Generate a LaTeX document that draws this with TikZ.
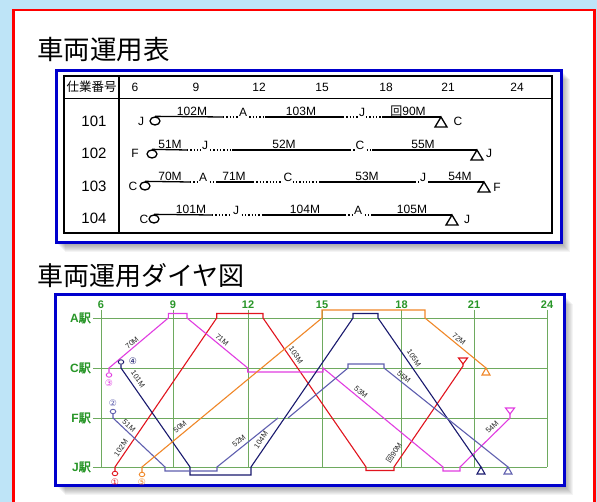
\documentclass[tikz,border=0pt]{standalone}
\usepackage{fontspec}
\setmainfont{Liberation Sans}
\newfontfamily\jp[AutoFakeBold=2]{Noto Sans CJK JP}
\newfontfamily\dvs{DejaVu Sans}
\usetikzlibrary{shapes.geometric}
\definecolor{bgblue}{RGB}{190,228,247}
\definecolor{pred}{RGB}{255,0,0}
\definecolor{bbox}{RGB}{0,0,205}
\definecolor{gridg}{RGB}{110,170,95}
\definecolor{labg}{RGB}{40,150,40}
\definecolor{tred}{RGB}{225,20,30}
\definecolor{tmag}{RGB}{225,60,225}
\definecolor{tnavy}{RGB}{25,25,110}
\definecolor{tslate}{RGB}{95,95,175}
\definecolor{torange}{RGB}{240,135,40}
\tikzset{
 tabtxt/.style={font=\fontsize{12}{12}\selectfont, inner sep=0pt},
 rownum/.style={font=\fontsize{15}{15}\selectfont, inner sep=0pt},
 tlab/.style={font=\fontsize{12}{12}\selectfont, anchor=base, inner sep=0pt},
 slab/.style={font=\fontsize{12}{12}\selectfont, anchor=base, inner sep=1pt, fill=white},
 solidseg/.style={line width=1.3pt},
 dotseg/.style={line width=1.3pt, dash pattern=on 1.3pt off 2pt},
 startc/.style={draw, ellipse, line width=1.3pt, minimum width=10pt, minimum height=8pt, inner sep=0pt},
 endtri/.style={line width=1.3pt, line join=miter},
 gridln/.style={draw=gridg, line width=0.9pt},
 ghour/.style={text=labg, font=\bfseries\fontsize{11}{11}\selectfont, inner sep=0pt},
 gsta/.style={text=labg, font=\bfseries\fontsize{12}{12}\selectfont, inner sep=0pt, anchor=east},
 train/.style={line width=1.1pt},
 dcirc/.style={draw, ellipse, line width=0.9pt, minimum width=5.5pt, minimum height=4.5pt, inner sep=0pt},
 cnum/.style={font=\dvs\fontsize{9}{9}\selectfont, inner sep=0pt},
 llab/.style={font=\fontsize{7.5}{7.5}\selectfont, text=black!85, inner sep=0pt},
 bluebox/.style={draw=bbox, line width=3pt, fill=white},
}
\begin{document}
\begin{tikzpicture}[x=1pt,y=-1pt]
\useasboundingbox (0,0) rectangle (597,502);
\clip (0,0) rectangle (597,502);
\fill[bgblue] (0,0) rectangle (597,502);
\draw[pred, line width=2.5pt, fill=white] (13.5,10) rectangle (594.5,530);

% titles
\node[anchor=west, inner sep=0pt, font=\jp\fontsize{26.5}{26.5}\selectfont] (title1) at (37,50) {車両運用表};
\node[anchor=west, inner sep=0pt, font=\jp\fontsize{26}{26}\selectfont] (title2) at (37,276) {車両運用ダイヤ図};

% ---------- top table ----------
\foreach \i in {2,...,9} \fill[black, opacity=0.045] (56+\i,70.5+\i) rectangle (561+\i,243+\i);
\draw[bluebox] (56,70.5) rectangle (561,243);
\draw[line width=1.4pt] (64,76) rectangle (552,233);
\draw[line width=1.4pt] (64,98.3) -- (552,98.3);
\draw[line width=1.4pt] (119,76) -- (119,233);
\node[inner sep=0pt, font=\jp\fontsize{12.5}{12.5}\selectfont] (hdr) at (91.5,87) {仕業番号};
\foreach \h/\x in {6/135,9/196,12/259,15/322,18/386,21/448,24/517}
  \node[tabtxt] (th\h) at (\x,87) {\h};

% row 101
\node[rownum] (n101) at (94,121) {101};
\node[tabtxt] (o101) at (141,121) {J};
\node[startc] (s101) at (155,121) {};
\draw[solidseg] (s101.north) -- (223,117);
\node[tlab] (l101a) at (192,115.5) {102M};
\draw[dotseg] (223,117) -- (265,117);
\node[slab] (w101a) at (243,117) {A};
\draw[solidseg] (265,117) -- (343,117);
\node[tlab] (l101b) at (301,115.5) {103M};
\draw[dotseg] (343,117) -- (382,117);
\node[slab] (w101b) at (362,117) {J};
\draw[solidseg] (382,117) -- (441,117) coordinate (e101);
\draw[endtri] (e101) -- ++(-6,10) -- ++(12,0) -- cycle;
\node[tlab] (l101c) at (408,115.5) {{\jp 回}90M};
\node[tabtxt] (d101) at (458,121) {C};

% row 102
\node[rownum] (n102) at (94,153) {102};
\node[tabtxt] (o102) at (135,153) {F};
\node[startc] (s102) at (152,154) {};
\draw[solidseg] (s102.north) -- (187,150);
\node[tlab] (l102a) at (170,148.5) {51M};
\draw[dotseg] (187,150) -- (232,150);
\node[slab] (w102a) at (205,150) {J};
\draw[solidseg] (232,150) -- (350,150);
\node[tlab] (l102b) at (284,148.5) {52M};
\draw[dotseg] (350,150) -- (372,150);
\node[slab] (w102b) at (360,150) {C};
\draw[solidseg] (372,150) -- (477,150) coordinate (e102);
\draw[endtri] (e102) -- ++(-6,10) -- ++(12,0) -- cycle;
\node[tlab] (l102c) at (423,148.5) {55M};
\node[tabtxt] (d102) at (489,153) {J};

% row 103
\node[rownum] (n103) at (94,186) {103};
\node[tabtxt] (o103) at (133,186) {C};
\node[startc] (s103) at (145,186) {};
\draw[solidseg] (s103.north) -- (190,182);
\node[tlab] (l103a) at (170,180.5) {70M};
\draw[dotseg] (190,182) -- (217,182);
\node[slab] (w103a) at (203,182) {A};
\draw[solidseg] (217,182) -- (253,182);
\node[tlab] (l103b) at (234,180.5) {71M};
\draw[dotseg] (253,182) -- (320,182);
\node[slab] (w103b) at (288,182) {C};
\draw[solidseg] (320,182) -- (415,182);
\node[tlab] (l103c) at (367,180.5) {53M};
\draw[dotseg] (415,182) -- (430,182);
\node[slab] (w103c) at (423,182) {J};
\draw[solidseg] (430,182) -- (484,182) coordinate (e103);
\draw[endtri] (e103) -- ++(-6,10) -- ++(12,0) -- cycle;
\node[tlab] (l103d) at (460,180.5) {54M};
\node[tabtxt] (d103) at (497,187) {F};

% row 104
\node[rownum] (n104) at (94,218) {104};
\node[tabtxt] (o104) at (144,219) {C};
\node[startc] (s104) at (154,219) {};
\draw[solidseg] (s104.north) -- (212,215);
\node[tlab] (l104a) at (191,213.5) {101M};
\draw[dotseg] (212,215) -- (263,215);
\node[slab] (w104a) at (236,215) {J};
\draw[solidseg] (263,215) -- (345,215);
\node[tlab] (l104b) at (305,213.5) {104M};
\draw[dotseg] (345,215) -- (372,215);
\node[slab] (w104b) at (358,215) {A};
\draw[solidseg] (372,215) -- (452,215) coordinate (e104);
\draw[endtri] (e104) -- ++(-6,10) -- ++(12,0) -- cycle;
\node[tlab] (l104c) at (412,213.5) {105M};
\node[tabtxt] (d104) at (467,219) {J};

% ---------- diagram ----------
\foreach \i in {2,...,9} \fill[black, opacity=0.045] (55.5+\i,295+\i) rectangle (564+\i,485.5+\i);
\draw[bluebox] (55.5,295) rectangle (564,485.5);

\foreach \h/\x in {6/101,9/173,12/248,15/322,18/401.5,21/474,24/547}{
  \draw[gridln] (\x,310) -- (\x,467);
  \node[ghour] (gh\h) at (\x,304.5) {\h};
}
\foreach \s/\y in {A/318,C/368,F/418,J/467}{
  \draw[gridln] (93,\y) -- (547,\y);
  \node[gsta] (gs\s) at (91,\y) {\s\jp 駅};
}

% red (1)
\node[dcirc, draw=tred] (c1) at (115,473.5) {};
\node[cnum, text=tred] (k1) at (115,482) {①};
\draw[train, tred] (c1.north) -- (115,467) -- (216.7,318) -- (216.7,313.5) -- (263,313.5) -- (263,318)
  -- (366,467) -- (366,470.5) -- (394,470.5) -- (394,467) -- (463,366) -- (463,364) coordinate (t1);
\draw[train, tred] (t1) -- ++(-4.5,-6) -- ++(9,0) -- cycle;

% magenta (3)
\node[dcirc, draw=tmag] (c3) at (109,375) {};
\node[cnum, text=tmag] (k3) at (109,383.5) {③};
\draw[train, tmag] (c3.north) -- (109,368) -- (168.3,318) -- (168.3,313.5) -- (187,313.5) -- (187,318)
  -- (247.7,368) -- (247.7,372) -- (323,372) -- (323,368) -- (443,467) -- (443,471) -- (460,471)
  -- (460,467) -- (510,418) -- (510,414) coordinate (t3);
\draw[train, tmag] (t3) -- ++(-4.5,-6) -- ++(9,0) -- cycle;

% navy (4)
\node[dcirc, draw=tnavy] (c4) at (121,362) {};
\node[cnum, text=tnavy] (k4) at (133,361) {④};
\draw[train, tnavy] (c4.south) -- (121,368) -- (190,467) -- (190,475) -- (251,475) -- (251,467)
  -- (353,318) -- (353,313.5) -- (378,313.5) -- (378,318) -- (481,467) coordinate (t4);
\draw[train, tnavy] (t4) -- ++(-4,7) -- ++(8,0) -- cycle;

% slate (2)
\node[dcirc, draw=tslate] (c2) at (113,411.5) {};
\node[cnum, text=tslate] (k2) at (113,403.5) {②};
\draw[train, tslate] (c2.south) -- (113,418) -- (165,467) -- (165,471) -- (217,471) -- (217,467) -- (278,418);
\draw[train, tslate] (288,418) -- (348,368) -- (348,364) -- (384,364) -- (384,368) -- (508,467) coordinate (t2);
\draw[train, tslate] (t2) -- ++(-4,7) -- ++(8,0) -- cycle;

% orange (5)
\node[dcirc, draw=torange] (c5) at (142,474.5) {};
\node[cnum, text=torange] (k5) at (142,482.5) {⑤};
\draw[train, torange] (c5.north) -- (142,467) -- (322,318) -- (322,310) -- (425,310) -- (425,318)
  -- (486,368) coordinate (t5);
\draw[train, torange] (t5) -- ++(-4,7) -- ++(8,0) -- cycle;

% line labels
\node[llab, rotate=40] (q70) at (132,343) {70M};
\node[llab, rotate=-55] (q101) at (138,379) {101M};
\node[llab, rotate=-40] (q71) at (222,340) {71M};
\node[llab, rotate=56] (q102) at (121,448) {102M};
\node[llab, rotate=-43] (q51) at (129,426) {51M};
\node[llab, rotate=40] (q50) at (180,427) {50M};
\node[llab, rotate=39] (q52) at (239,441) {52M};
\node[llab, rotate=56] (q104) at (261,440) {104M};
\node[llab, rotate=-55] (q103) at (296,355) {103M};
\node[llab, rotate=-39.5] (q53) at (361,392) {53M};
\node[llab, rotate=-55] (q105) at (414,358) {105M};
\node[llab, rotate=-38.6] (q55) at (404,377) {55M};
\node[llab, rotate=56] (q90) at (394,453) {{\jp 回}90M};
\node[llab, rotate=-39] (q72) at (459,339) {72M};
\node[llab, rotate=44] (q54) at (492,427) {54M};
\end{tikzpicture}
\end{document}
